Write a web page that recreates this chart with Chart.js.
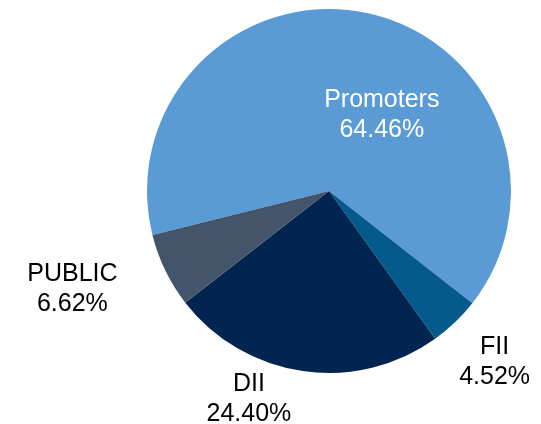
<!DOCTYPE html>
<html>
<head>
<meta charset="utf-8">
<script src="https://cdn.jsdelivr.net/npm/chart.js@4"></script>
<style>
  html, body { margin: 0; padding: 0; background: #ffffff; }
  canvas { display: block; }
</style>
</head>
<body>
<canvas id="holdingChart" width="541" height="424"></canvas>
<script>
// Shareholding pattern, percent of total
const categories = ['Promoters', 'FII', 'DII', 'PUBLIC'];
const shares = [64.46, 4.52, 24.40, 6.62];
const sliceColors = ['#5b9bd5', '#045a8a', '#012450', '#44546a'];
const labelColors = ['#ffffff', '#000000', '#000000', '#000000'];

// Where each two-line label sits, as an offset from the pie centre in radii
const labelOffsets = [[0.29, -0.43], [0.91, 0.93], [-0.44, 1.13], [-1.41, 0.53]];

// Draws "name / value%" for each slice
const sliceLabels = {
  id: 'sliceLabels',
  afterDatasetsDraw(chart) {
    const { ctx } = chart;
    const arcs = chart.getDatasetMeta(0).data;
    ctx.save();
    ctx.font = '25px "Liberation Sans", Arial, sans-serif';
    ctx.textAlign = 'center';
    ctx.textBaseline = 'middle';
    arcs.forEach((arc, i) => {
      const x = arc.x + labelOffsets[i][0] * arc.outerRadius;
      const y = arc.y + labelOffsets[i][1] * arc.outerRadius + 2;
      ctx.fillStyle = labelColors[i];
      ctx.fillText(categories[i], x, y - 15);
      ctx.fillText(shares[i].toFixed(2) + '%', x, y + 15);
    });
    ctx.restore();
  }
};

new Chart(document.getElementById('holdingChart').getContext('2d'), {
  type: 'pie',
  data: {
    labels: categories,
    datasets: [{
      data: shares,
      backgroundColor: sliceColors,
      borderWidth: 0,
      hoverOffset: 0,
      offset: 0
    }]
  },
  options: {
    responsive: false,
    animation: false,
    rotation: 256,
    layout: { padding: { left: 147, top: 9, right: 30, bottom: 51 } },
    plugins: {
      legend: { display: false },
      tooltip: { enabled: false }
    },
    events: []
  },
  plugins: [sliceLabels]
});
</script>
</body>
</html>
